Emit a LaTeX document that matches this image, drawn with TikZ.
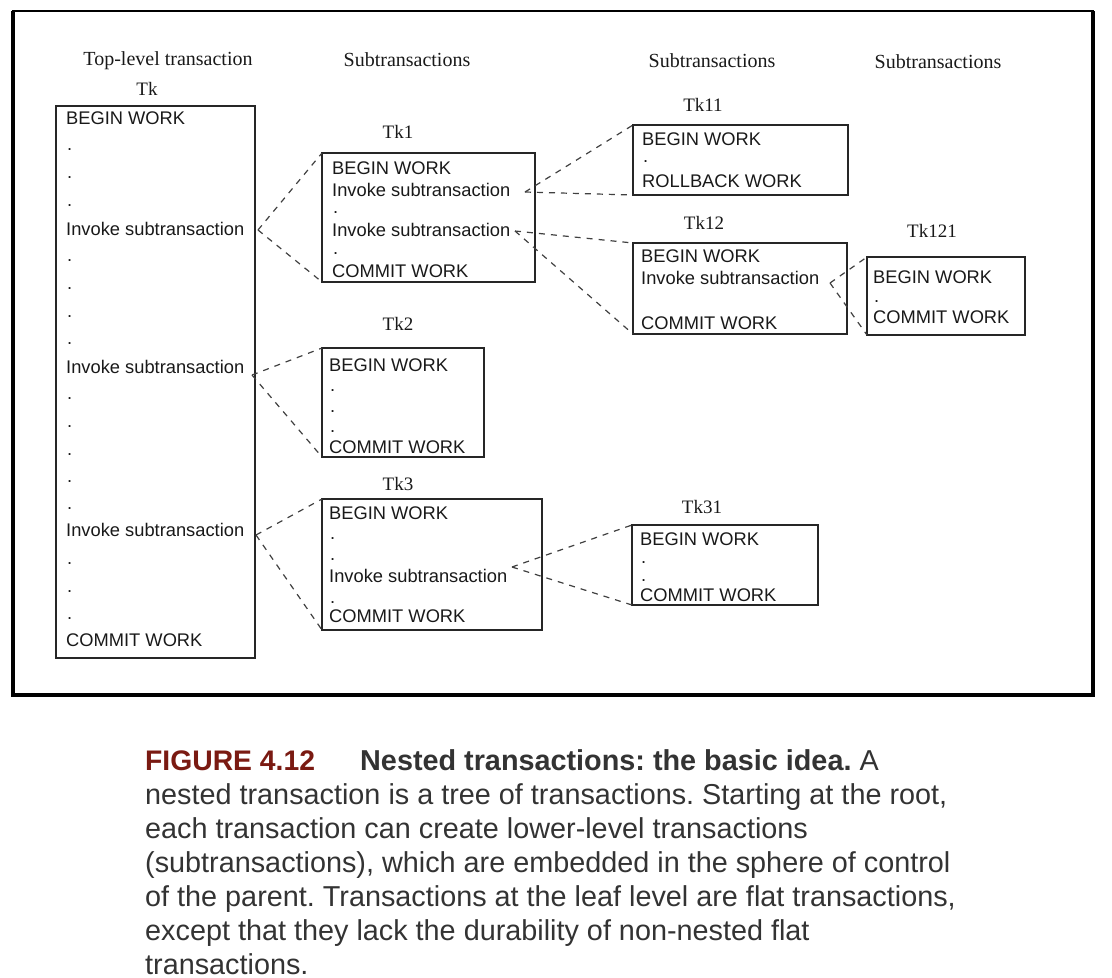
\documentclass[tikz,border=0pt]{standalone}
\usepackage{fontspec}
\setmainfont{Liberation Serif}
\newfontfamily\boxfont{Liberation Sans}
\definecolor{figred}{HTML}{7A1A12}
\definecolor{capgray}{HTML}{333333}
\frenchspacing
\tikzset{
  tbox/.style={draw=black!85, line width=1.4pt, anchor=north west, inner sep=0pt, outer sep=0pt},
  txt/.style={font=\boxfont\fontsize{18.3}{20}\selectfont, text=black!90, anchor=base west, inner sep=0pt},
  hdr/.style={font=\fontsize{20}{22}\selectfont, text=black!90, inner sep=0pt, anchor=base},
  lbl/.style={font=\fontsize{19}{21}\selectfont, text=black!90, inner sep=0pt, anchor=base},
  conn/.style={draw=black!75, line width=1.2pt, dash pattern=on 6pt off 6pt},
  captxt/.style={font=\boxfont\fontsize{28.8}{34}\selectfont, text=capgray, anchor=base west, inner sep=0pt},
}
\begin{document}
\begin{tikzpicture}[x=1pt,y=-1pt]
\useasboundingbox (0,0) rectangle (1112,978);
% outer frame
\draw[line width=3.5pt] (13,11) -- (13,695) -- (1093,695) -- (1093,11);
\draw[line width=2.2pt] (12,11) -- (1094,11);

% headers
\node[hdr] (h0) at (168,65) {Top-level transaction};
\node[hdr] (h1) at (407,66) {Subtransactions};
\node[hdr] (h2) at (712,67) {Subtransactions};
\node[hdr] (h3) at (938,68) {Subtransactions};

% labels
\node[lbl] (ltk) at (147,95) {Tk};
\node[lbl] (ltk1) at (398,138) {Tk1};
\node[lbl] (ltk11) at (703,111) {Tk11};
\node[lbl] (ltk12) at (704,229) {Tk12};
\node[lbl] (ltk121) at (932,237) {Tk121};
\node[lbl] (ltk2) at (398,330) {Tk2};
\node[lbl] (ltk3) at (398,490) {Tk3};
\node[lbl] (ltk31) at (702,513) {Tk31};

% boxes
\node[tbox, minimum width=199pt, minimum height=552pt] (tk) at (56,106) {};
\node[tbox, minimum width=213pt, minimum height=129pt] (tk1) at (322,153) {};
\node[tbox, minimum width=215pt, minimum height=70pt] (tk11) at (633,125) {};
\node[tbox, minimum width=214pt, minimum height=91pt] (tk12) at (633,243) {};
\node[tbox, minimum width=158pt, minimum height=78pt] (tk121) at (867,257) {};
\node[tbox, minimum width=162pt, minimum height=109pt] (tk2) at (322,348) {};
\node[tbox, minimum width=220pt, minimum height=131pt] (tk3) at (322,499) {};
\node[tbox, minimum width=186pt, minimum height=80pt] (tk31) at (632,525) {};

% Tk contents
\node[txt] (tkb) at (66,124.6) {BEGIN WORK};
\foreach \y [count=\i] in {150,178,206} \node[txt] (tkda\i) at (67,\y) {.};
\node[txt] (tki1) at (66,235.6) {Invoke subtransaction};
\foreach \y [count=\i] in {261,289,317,344} \node[txt] (tkdb\i) at (67,\y) {.};
\node[txt] (tki2) at (66,373.6) {Invoke subtransaction};
\foreach \y [count=\i] in {399,427,455,482,509} \node[txt] (tkdc\i) at (67,\y) {.};
\node[txt] (tki3) at (66,536.6) {Invoke subtransaction};
\foreach \y [count=\i] in {564,592,619} \node[txt] (tkdd\i) at (67,\y) {.};
\node[txt] (tkc) at (66,646.6) {COMMIT WORK};

% Tk1 contents
\node[txt] (tk1b) at (332,174.6) {BEGIN WORK};
\node[txt] (tk1i1) at (332,196.6) {Invoke subtransaction};
\node[txt] (tk1d1) at (333,213) {.};
\node[txt] (tk1i2) at (332,236.6) {Invoke subtransaction};
\node[txt] (tk1d2) at (333,254) {.};
\node[txt] (tk1c) at (332,277.6) {COMMIT WORK};

% Tk11 contents
\node[txt] (tk11b) at (642,145.6) {BEGIN WORK};
\node[txt] (tk11d) at (643,162) {.};
\node[txt] (tk11r) at (642,187.6) {ROLLBACK WORK};

% Tk12 contents
\node[txt] (tk12b) at (641,262.6) {BEGIN WORK};
\node[txt] (tk12i) at (641,284.6) {Invoke subtransaction};
\node[txt] (tk12c) at (641,329.6) {COMMIT WORK};

% Tk121 contents
\node[txt] (tk121b) at (873,283.6) {BEGIN WORK};
\node[txt] (tk121d) at (874,302) {.};
\node[txt] (tk121c) at (873,323.6) {COMMIT WORK};

% Tk2 contents
\node[txt] (tk2b) at (329,371.6) {BEGIN WORK};
\foreach \y [count=\i] in {391,412,432} \node[txt] (tk2d\i) at (330,\y) {.};
\node[txt] (tk2c) at (329,453.6) {COMMIT WORK};

% Tk3 contents
\node[txt] (tk3b) at (329,519.6) {BEGIN WORK};
\foreach \y [count=\i] in {539,560} \node[txt] (tk3d\i) at (330,\y) {.};
\node[txt] (tk3i) at (329,582.6) {Invoke subtransaction};
\node[txt] (tk3d3) at (330,603) {.};
\node[txt] (tk3c) at (329,622.6) {COMMIT WORK};

% Tk31 contents
\node[txt] (tk31b) at (640,545.6) {BEGIN WORK};
\foreach \y [count=\i] in {563,581} \node[txt] (tk31d\i) at (641,\y) {.};
\node[txt] (tk31c) at (640,601.6) {COMMIT WORK};

% connectors
\coordinate (a1) at (258,230);
\coordinate (a2) at (252,375);
\coordinate (a3) at (256,535);
\coordinate (a11) at (525,192);
\coordinate (a12) at (515,231);
\coordinate (a121) at (830,283);
\coordinate (a31) at (512,567);
\draw[conn] (a1) -- (tk1.north west);
\draw[conn] (a1) -- (tk1.south west);
\draw[conn] (a2) -- (tk2.north west);
\draw[conn] (a2) -- (tk2.south west);
\draw[conn] (a3) -- (tk3.north west);
\draw[conn] (a3) -- (tk3.south west);
\draw[conn] (a11) -- (tk11.north west);
\draw[conn] (a11) -- (tk11.south west);
\draw[conn] (a12) -- (tk12.north west);
\draw[conn] (a12) -- (tk12.south west);
\draw[conn] (a121) -- (tk121.north west);
\draw[conn] (a121) -- (tk121.south west);
\draw[conn] (a31) -- (tk31.north west);
\draw[conn] (a31) -- (tk31.south west);

% caption
\node[captxt, text=figred, font=\boxfont\bfseries\fontsize{28.3}{34}\selectfont] (c1a) at (145,770) {FIGURE 4.12};
\node[captxt] (c1b) at (360,770) {\bfseries Nested transactions: the basic idea.\mdseries{} A};
\node[captxt] (c2) at (145,804) {nested transaction is a tree of transactions. Starting at the root,};
\node[captxt] (c3) at (145,838) {each transaction can create lower-level transactions};
\node[captxt] (c4) at (145,872) {(subtransactions), which are embedded in the sphere of control};
\node[captxt] (c5) at (145,906) {of the parent. Transactions at the leaf level are flat transactions,};
\node[captxt] (c6) at (145,940) {except that they lack the durability of non-nested flat};
\node[captxt] (c7) at (145,974) {transactions.};
\end{tikzpicture}
\end{document}
